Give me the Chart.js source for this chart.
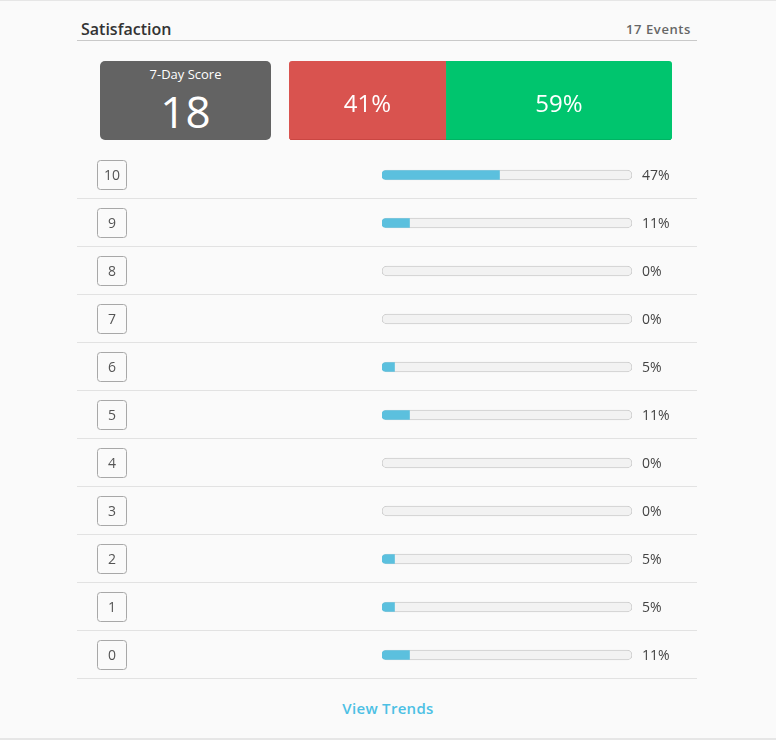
<!DOCTYPE html>
<html>
<head>
<meta charset="utf-8">
<script src="https://cdn.jsdelivr.net/npm/chart.js@4/dist/chart.umd.min.js"></script>
<style>
    body {
        margin: 0;
        width: 776px;
        height: 740px;
        background: #fafafa;
        font-family: "Open Sans", sans-serif;
        position: relative;
        overflow: hidden;
    }
    .top-rule {
        position: absolute;
        left: 0; top: 0;
        width: 776px; height: 1px;
        background: #e6e6e6;
    }
    .bottom-rule {
        position: absolute;
        left: 0; top: 738px;
        width: 776px; height: 2px;
        background: #e6e6e6;
    }
    .header {
        position: absolute;
        left: 77px; top: 17px;
        width: 620px; height: 23px;
        border-bottom: 1px solid #c9c9c9;
    }
    .header .title {
        position: absolute;
        left: 4px; top: 1px;
        font-size: 16px;
        font-weight: 600;
        color: #333;
    }
    .header .events {
        position: absolute;
        right: 6px; top: 3px;
        font-size: 13px;
        font-weight: 600;
        letter-spacing: 0.6px;
        color: #666;
    }
    .score-box {
        position: absolute;
        left: 100px; top: 61px;
        width: 171px; height: 79px;
        background: #636363;
        border-radius: 5px;
        color: #fff;
        text-align: center;
    }
    .score-box .label {
        position: absolute;
        left: 0; right: 0; top: 4px;
        font-size: 13px;
    }
    .score-box .value {
        position: absolute;
        left: 0; right: 0; top: 22px;
        font-size: 44px;
        line-height: 56px;
    }
    #splitChart {
        position: absolute;
        left: 289px; top: 61px;
    }
    #rowsChart {
        position: absolute;
        left: 77px; top: 151px;
    }
    .trends {
        position: absolute;
        left: 0; width: 776px; top: 698px;
        text-align: center;
        font-size: 15px;
        font-weight: 600;
        letter-spacing: 0.3px;
        color: #4cc0e4;
    }
</style>
</head>
<body>

<div class="top-rule"></div>

<div class="header">
    <span class="title">Satisfaction</span>
    <span class="events" id="eventsText"></span>
</div>

<div class="score-box">
    <div class="label">7-Day Score</div>
    <div class="value" id="scoreValue"></div>
</div>

<canvas id="splitChart" width="383" height="79"></canvas>

<canvas id="rowsChart" width="620" height="530"></canvas>

<div class="trends">View Trends</div>

<div class="bottom-rule"></div>

<script>
const eventCount = 17;
const sevenDayScore = 18;

const splitLabels = ["Detractors", "Promoters"];
const splitPercents = [41, 59];
const splitColors = ["#d9534f", "#00c56e"];
const splitEdgeColors = ["#c4423e", "#00ad60"];

const scoreLabels = ["10", "9", "8", "7", "6", "5", "4", "3", "2", "1", "0"];
const scorePercents = [47, 11, 0, 0, 5, 11, 0, 0, 5, 5, 11];
const trackValues = scoreLabels.map(() => 100);

document.getElementById("eventsText").innerText =
    eventCount + " Events";

document.getElementById("scoreValue").innerText =
    sevenDayScore;

// writes the percentage in the middle of each split segment
const splitLabelPlugin = {
    id: "splitLabels",
    afterDatasetsDraw(chart) {
        const ctx = chart.ctx;
        ctx.save();
        ctx.fillStyle = "#ffffff";
        ctx.font = "24px 'Open Sans'";
        ctx.textAlign = "center";
        ctx.textBaseline = "middle";
        chart.data.datasets.forEach((ds, i) => {
            const bar = chart.getDatasetMeta(i).data[0];
            const c = bar.getCenterPoint();
            ctx.fillText(ds.data[0] + "%", c.x, c.y + 5);
        });
        ctx.restore();
    }
};

function renderSplitChart() {

    const ctx = document.getElementById("splitChart");

    new Chart(ctx, {
        type: "bar",
        data: {
            labels: ["split"],
            datasets: splitLabels.map((name, i) => ({
                label: name,
                data: [splitPercents[i]],
                backgroundColor: splitColors[i],
                borderColor: splitEdgeColors[i],
                borderWidth: { top: 0, left: 0, right: 0, bottom: 1 },
                borderSkipped: false,
                borderRadius: i === 0
                    ? { topLeft: 3, bottomLeft: 3, topRight: 0, bottomRight: 0 }
                    : { topLeft: 0, bottomLeft: 0, topRight: 3, bottomRight: 3 },
                barPercentage: 1,
                categoryPercentage: 1
            }))
        },
        options: {
            indexAxis: "y",
            responsive: false,
            animation: false,
            devicePixelRatio: 1,
            layout: { padding: 0 },
            plugins: {
                legend: { display: false },
                tooltip: { enabled: false }
            },
            scales: {
                x: { stacked: true, min: 0, max: 100, display: false },
                y: { stacked: true, display: false }
            }
        },
        plugins: [splitLabelPlugin]
    });

}

// score boxes on the left, percentages on the right, row separators
const rowDecorPlugin = {
    id: "rowDecor",
    afterDatasetsDraw(chart) {
        const ctx = chart.ctx;
        const yScale = chart.scales.y;
        const band = (chart.chartArea.bottom - chart.chartArea.top) / scoreLabels.length;
        ctx.save();

        scoreLabels.forEach((label, i) => {
            const cy = yScale.getPixelForValue(i);

            // separator under each row
            ctx.strokeStyle = "#e2e2e2";
            ctx.lineWidth = 1;
            ctx.beginPath();
            ctx.moveTo(0, Math.round(cy + band / 2) - 0.5);
            ctx.lineTo(chart.width, Math.round(cy + band / 2) - 0.5);
            ctx.stroke();

            // score box
            ctx.fillStyle = "#fafafa";
            ctx.strokeStyle = "#a8a8a8";
            ctx.beginPath();
            ctx.roundRect(20.5, Math.round(cy - 15) + 0.5, 29, 29, 3);
            ctx.fill();
            ctx.stroke();

            ctx.fillStyle = "#555555";
            ctx.font = "14px 'Open Sans'";
            ctx.textAlign = "center";
            ctx.textBaseline = "middle";
            ctx.fillText(label, 35, cy + 1);

            // percentage text
            ctx.fillStyle = "#444444";
            ctx.font = "14px 'Open Sans'";
            ctx.textAlign = "left";
            ctx.fillText(scorePercents[i] + "%", chart.chartArea.right + 10, cy + 1);
        });

        ctx.restore();
    }
};

function renderRowsChart() {

    const ctx = document.getElementById("rowsChart");

    new Chart(ctx, {
        type: "bar",
        data: {
            labels: scoreLabels,
            datasets: [
                {
                    label: "Share",
                    data: scorePercents,
                    backgroundColor: (c) =>
                        c.raw > 0 ? "#5bc0de" : "rgba(0,0,0,0)",
                    borderWidth: 0,
                    borderSkipped: false,
                    borderRadius: { topLeft: 4, bottomLeft: 4, topRight: 0, bottomRight: 0 },
                    barThickness: 9,
                    grouped: false,
                    order: 0
                },
                {
                    label: "Track",
                    data: trackValues,
                    backgroundColor: "#f2f2f2",
                    borderColor: "#cccccc",
                    borderWidth: 1,
                    borderSkipped: false,
                    borderRadius: 5,
                    barThickness: 10,
                    grouped: false,
                    order: 1
                }
            ]
        },
        options: {
            indexAxis: "y",
            responsive: false,
            animation: false,
            devicePixelRatio: 1,
            layout: {
                padding: { left: 305, right: 65, top: 0, bottom: 2 }
            },
            plugins: {
                legend: { display: false },
                tooltip: { enabled: false }
            },
            scales: {
                x: { min: 0, max: 100, display: false },
                y: { display: false }
            }
        },
        plugins: [rowDecorPlugin]
    });

}

document.fonts.ready.then(() => {
    renderSplitChart();
    renderRowsChart();
});
</script>
</body>
</html>
